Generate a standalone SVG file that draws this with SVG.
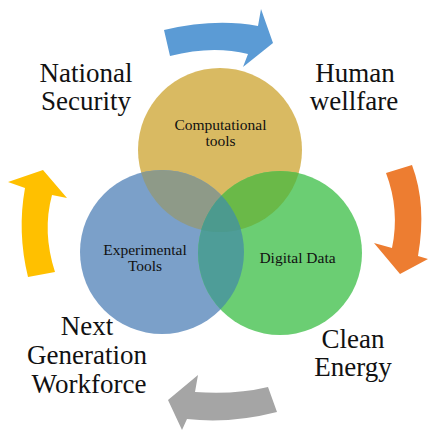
<svg xmlns="http://www.w3.org/2000/svg" width="428" height="430" viewBox="0 0 428 430">
<style>
text{font-family:'Liberation Serif','Times New Roman',Times,serif;fill:#111;text-anchor:middle}
.lbl{font-size:27px}
.in{font-size:15.5px}
</style>
<defs>
<clipPath id="cy"><circle cx="220" cy="150" r="82"/></clipPath>
<clipPath id="cb"><circle cx="162" cy="252" r="82"/></clipPath>
</defs>
<rect width="428" height="430" fill="#fff"/>
<g id="arrows">
<path d="M164,30 Q215,18 258,26 L261,9 L273,43 L243,67 L248,54 Q212,45 170,56 Z" fill="#5B9BD5"/>
<path d="M386,173 Q400,210 392,248 L374,243 L400,274 L428,259 L418,256 Q427,205 412,165 Z" fill="#ED7D31"/>
<path d="M268,387 Q235,395 195,392 L198,375 L168,400 L182,430 L187,419 Q230,424 277,412 Z" fill="#A5A5A5"/>
<path d="M28,277 Q17,232 25,188 L8,182 L43,170 L67,198 L52,195 Q42,232 55,272 Z" fill="#FFC000"/>
</g>
<g id="computational">
<circle cx="220" cy="150" r="82" fill="#D9BA62"/>
</g>
<g id="experimental">
<circle cx="162" cy="252" r="82" fill="#7BA0C9"/>
<circle cx="162" cy="252" r="82" fill="#8E9A88" clip-path="url(#cy)"/>
</g>
<g id="digital">
<circle cx="280" cy="253" r="82" fill="#6BCE73"/>
<circle cx="280" cy="253" r="82" fill="#6AB948" clip-path="url(#cy)"/>
<circle cx="280" cy="253" r="82" fill="#4E9D98" clip-path="url(#cb)"/>
<g clip-path="url(#cy)"><circle cx="280" cy="253" r="82" fill="#4C9A8E" clip-path="url(#cb)"/></g>
</g>
<g id="labels-inner">
<text class="in" x="220.5" y="130" font-family="Liberation Serif, serif">Computational</text>
<text class="in" x="220.5" y="146">tools</text>
<text class="in" x="145" y="255">Experimental</text>
<text class="in" x="145" y="271">Tools</text>
<text class="in" x="297.5" y="263">Digital Data</text>
</g>
<g id="national-security"><text class="lbl" x="86" y="82">National</text><text class="lbl" x="86" y="110">Security</text></g>
<g id="human-wellfare"><text class="lbl" x="355" y="82">Human</text><text class="lbl" x="354" y="110">wellfare</text></g>
<g id="clean-energy"><text class="lbl" x="353" y="348">Clean</text><text class="lbl" x="353" y="376">Energy</text></g>
<g id="workforce"><text class="lbl" x="87" y="335">Next</text><text class="lbl" x="87" y="364">Generation</text><text class="lbl" x="89" y="393">Workforce</text></g>
</svg>
